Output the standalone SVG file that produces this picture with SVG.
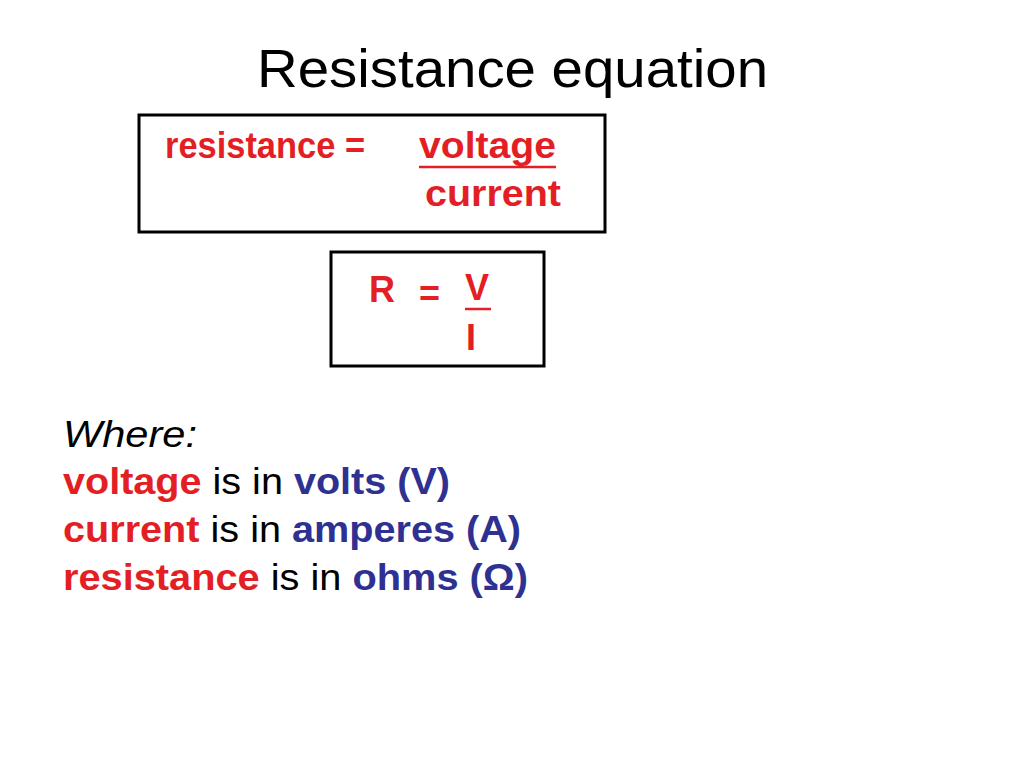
<svg xmlns="http://www.w3.org/2000/svg" width="1024" height="768" viewBox="0 0 1024 768">
<style>
text{font-family:"Liberation Sans",Arial,sans-serif}
.r{fill:#e31e24;font-weight:bold;font-size:36px}
.b{fill:#2e3192;font-weight:bold}
.box{fill:none;stroke:#000;stroke-width:3}
.u{stroke:#e31e24;stroke-width:2.5}
</style>
<rect width="1024" height="768" fill="#fff"/>
<text x="257" y="87" font-size="54" fill="#000" textLength="511" lengthAdjust="spacingAndGlyphs">Resistance equation</text>
<g id="box1">
<rect class="box" x="139" y="115" width="466" height="117"/>
<text class="r" x="165" y="158" textLength="200" lengthAdjust="spacingAndGlyphs">resistance =</text>
<text class="r" x="419" y="158" textLength="137" lengthAdjust="spacingAndGlyphs">voltage</text>
<line class="u" x1="419" y1="167" x2="556" y2="167"/>
<text class="r" x="425" y="206" textLength="136" lengthAdjust="spacingAndGlyphs">current</text>
</g>
<g id="box2">
<rect class="box" x="331" y="252" width="213" height="114"/>
<text class="r" x="369" y="302">R</text>
<text class="r" x="419" y="306">=</text>
<text class="r" x="465" y="300">V</text>
<line class="u" x1="465" y1="309" x2="491" y2="309"/>
<text class="r" x="466" y="350">I</text>
</g>
<g id="where" font-size="36">
<text x="63" y="447" font-style="italic" fill="#000" textLength="134" lengthAdjust="spacingAndGlyphs">Where:</text>
<text x="63" y="494" textLength="387" lengthAdjust="spacingAndGlyphs"><tspan class="r">voltage</tspan><tspan fill="#000"> is in </tspan><tspan class="b">volts (V)</tspan></text>
<text x="63" y="542" textLength="458" lengthAdjust="spacingAndGlyphs"><tspan class="r">current</tspan><tspan fill="#000"> is in </tspan><tspan class="b">amperes (A)</tspan></text>
<text x="63" y="590" textLength="465" lengthAdjust="spacingAndGlyphs"><tspan class="r">resistance</tspan><tspan fill="#000"> is in </tspan><tspan class="b">ohms (Ω)</tspan></text>
</g>
</svg>
